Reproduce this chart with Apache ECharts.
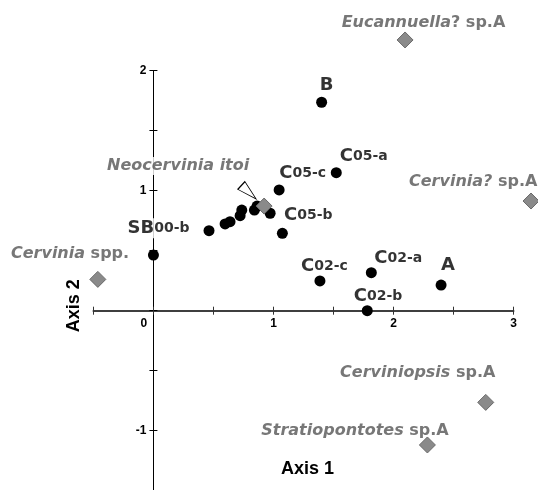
<!DOCTYPE html>
<html>
<head>
<meta charset="utf-8">
<script src="https://cdn.jsdelivr.net/npm/echarts@6/dist/echarts.min.js"></script>
<style>
html,body{margin:0;padding:0;background:#fff;}
#chart{width:538px;height:490px;}
</style>
</head>
<body>
<div id="chart"></div>
<script>
// ---- data ----
const siteNames = ['B', 'C05-a', 'C05-c', 'C05-b', 'SB00-b', 'A', 'C02-a', 'C02-b', 'C02-c', '', '', '', '', '', '', '', ''];
const siteAxis1 = [1.401, 1.523, 1.047, 1.074, 0.463, 2.396, 1.815, 1.781, 1.387, 0.000, 0.597, 0.638, 0.722, 0.736, 0.841, 0.863, 0.972];
const siteAxis2 = [1.737, 1.150, 1.006, 0.645, 0.667, 0.214, 0.317, 0.000, 0.248, 0.464, 0.723, 0.742, 0.792, 0.839, 0.839, 0.872, 0.812];

const speciesGenus = ['Eucannuella', 'Cervinia?', 'Neocervinia itoi', 'Cervinia', 'Cerviniopsis', 'Stratiopontotes'];
const speciesRest  = ['? sp.A', ' sp.A', '', ' spp.', ' sp.A', ' sp.A'];
const speciesAxis1 = [2.096, 3.145, 0.922, -0.463, 2.768, 2.282];
const speciesAxis2 = [2.256, 0.914, 0.872, 0.261, -0.764, -1.119];

// arrow marker pointing at Neocervinia itoi
const arrowAxis1 = [0.794];
const arrowAxis2 = [0.987];

const xTickLabels = [0, 1, 2, 3];
const yTickLabels = [-1, 1, 2];

// ---- label placement (styles, kept apart from the data) ----
const siteLabelOffset = {
  'B': [5, -16.5], 'C05-a': [27.5, -16], 'C05-c': [23.5, -16.2], 'C05-b': [26, -17.5],
  'SB00-b': [-50.5, -2.5], 'A': [7, -19.5], 'C02-a': [27, -14.5], 'C02-b': [10.7, -14.2], 'C02-c': [4.5, -14.5]
};
const speciesLabelOffset = [[18.4, -17.3], [-57.8, -19], [-86, -40], [-27.8, -26], [-68, -29.6], [-72.4, -14]];
const whiteBack = {'SB00-b': true, 'Neocervinia itoi': true};

const FONT = '"DejaVu Sans", sans-serif';
const TICKFONT = '"Liberation Sans", Arial, sans-serif';

function makeLabel(txt, off, white) {
  // symbol of the label carrier is 1px, so its rect origin is the point itself
  const lab = {show: true, position: [off[0] + 0.5, off[1] + 0.5], align: 'center', verticalAlign: 'middle', formatter: txt};
  if (white) { lab.backgroundColor = '#fff'; lab.padding = [1, 2]; }
  return lab;
}

const labelData = [];
siteNames.forEach((n, i) => {
  if (!n) return;
  const m = n.match(/^([A-Z]+)(.*)$/);
  const big = m[1], small = m[2];
  const txt = small ? `{b|${big}}{s|${small}}` : `{b|${big}}`;
  labelData.push({value: [siteAxis1[i], siteAxis2[i]], label: makeLabel(txt, siteLabelOffset[n], whiteBack[n])});
});
speciesGenus.forEach((g, i) => {
  const txt = `{i|${g}}` + (speciesRest[i] ? `{n|${speciesRest[i]}}` : '');
  labelData.push({value: [speciesAxis1[i], speciesAxis2[i]], label: makeLabel(txt, speciesLabelOffset[i], whiteBack[g])});
});

const richStyles = {
  b: {fontFamily: FONT, fontWeight: 'bold', fontSize: 18, color: '#000'},
  s: {fontFamily: FONT, fontWeight: 'bold', fontSize: 14, color: '#000'},
  i: {fontFamily: FONT, fontWeight: 'bold', fontStyle: 'italic', fontSize: 16, color: '#555'},
  n: {fontFamily: FONT, fontWeight: 'bold', fontSize: 16, color: '#555'}
};

// grid geometry: x from -0.5..3, y from -1.5..2 ; axes cross at the origin
const GRID = {left: 93.4, right: 24.4, top: 70.7, bottom: -0.7};
const W = 538, H = 490;
const gridW = W - GRID.left - GRID.right, gridH = H - GRID.top - GRID.bottom;
const xMin = -0.5, xMax = 3, yMin = -1.5, yMax = 2;
const zeroFromLeft = gridW * (0 - xMin) / (xMax - xMin);
const zeroFromBottom = gridH * (0 - yMin) / (yMax - yMin);

const xRange = {type: 'value', min: xMin, max: xMax, interval: 0.5, splitLine: {show: false}};
const yRange = {type: 'value', min: yMin, max: yMax, interval: 0.5, splitLine: {show: false}};

const option = {
  animation: false,
  backgroundColor: '#fff',
  grid: Object.assign({outerBoundsMode: 'none', containLabel: false}, GRID),
  xAxis: [
    Object.assign({}, xRange, {
      position: 'bottom', offset: -zeroFromBottom,
      axisLine: {onZero: false, lineStyle: {color: '#333', width: 1.5}},
      axisTick: {show: true, inside: false, length: 4, lineStyle: {color: '#333', width: 1}},
      axisLabel: {
        margin: 7, showMinLabel: true, showMaxLabel: true,
        fontFamily: TICKFONT, fontWeight: 'bold', fontSize: 12, color: '#000',
        formatter: v => {
          const r = Math.round(v * 10) / 10;
          if (!xTickLabels.includes(r)) return '';
          return r === 0 ? '{z|0}' : String(r);
        },
        rich: {z: {fontFamily: TICKFONT, fontWeight: 'bold', fontSize: 12, color: '#000', padding: [0, 19, 0, 0]}}
      },
      name: 'Axis 1', nameLocation: 'middle', nameGap: 149.5,
      nameTextStyle: {fontFamily: TICKFONT, fontWeight: 'bold', fontSize: 18, color: '#000', padding: [0, 0, 0, 8]}
    }),
    Object.assign({}, xRange, {
      position: 'top', offset: -(gridH - zeroFromBottom),
      axisLine: {onZero: false, lineStyle: {color: '#333', width: 1.5}},
      axisTick: {show: true, inside: false, length: 4, lineStyle: {color: '#333', width: 1}},
      axisLabel: {show: false}
    })
  ],
  yAxis: [
    Object.assign({}, yRange, {
      position: 'left', offset: -zeroFromLeft,
      axisLine: {onZero: false, lineStyle: {color: '#000', width: 1}},
      axisTick: {show: true, inside: false, length: 4, lineStyle: {color: '#000', width: 1}},
      axisLabel: {
        margin: 7, showMinLabel: true, showMaxLabel: true,
        fontFamily: TICKFONT, fontWeight: 'bold', fontSize: 12, color: '#000',
        formatter: v => {
          const r = Math.round(v * 10) / 10;
          return yTickLabels.includes(r) ? String(r) : '';
        }
      }
    }),
    Object.assign({}, yRange, {
      position: 'right', offset: -(gridW - zeroFromLeft),
      axisLine: {onZero: false, lineStyle: {color: '#000', width: 1}},
      axisTick: {show: true, inside: false, length: 4, lineStyle: {color: '#000', width: 1}},
      axisLabel: {show: false}
    })
  ],
  graphic: [{
    type: 'text', x: 73.8, y: 305.8, rotation: Math.PI / 2,
    style: {text: 'Axis 2', font: 'bold 18px "Liberation Sans", Arial, sans-serif', fill: '#000', align: 'center', verticalAlign: 'middle'}
  }],
  series: [
    {
      name: 'labels', type: 'scatter', z: 1, clip: false, silent: true,
      symbol: 'circle', symbolSize: 1, itemStyle: {color: 'rgba(0,0,0,0)'},
      label: {show: true, rich: richStyles},
      labelLayout: {hideOverlap: false},
      data: labelData
    },
    {
      name: 'sites', type: 'scatter', z: 2, clip: false,
      symbol: 'circle', symbolSize: 11, itemStyle: {color: '#000', opacity: 1},
      data: siteAxis1.map((x, i) => [x, siteAxis2[i]])
    },
    {
      name: 'species', type: 'scatter', z: 3, clip: false,
      symbol: 'diamond', symbolSize: 16,
      itemStyle: {color: '#8a8a8a', borderColor: '#6a6a6a', borderWidth: 1, opacity: 1},
      data: speciesAxis1.map((x, i) => [x, speciesAxis2[i]])
    },
    {
      name: 'arrow', type: 'scatter', z: 3, clip: false, silent: true,
      symbol: 'triangle', symbolSize: [10.5, 20], symbolRotate: -132.7,
      itemStyle: {color: '#fff', borderColor: '#000', borderWidth: 1, opacity: 1},
      data: arrowAxis1.map((x, i) => [x, arrowAxis2[i]])
    }
  ]
};

const chart = echarts.init(document.getElementById('chart'), null, {renderer: 'canvas'});
chart.setOption(option);
</script>
</body>
</html>
